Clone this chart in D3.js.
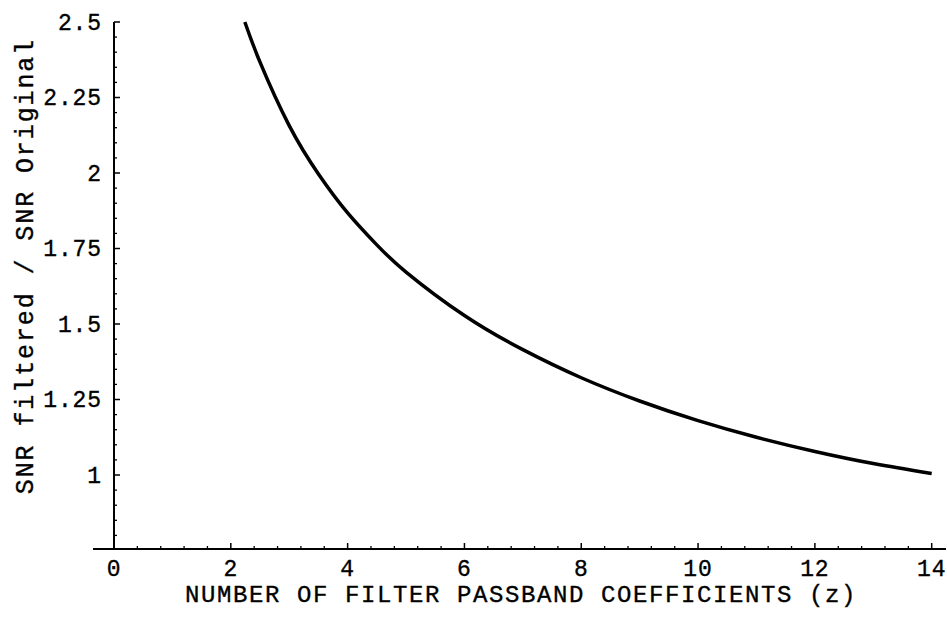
<!DOCTYPE html>
<html>
<head>
<meta charset="utf-8">
<script src="https://cdn.jsdelivr.net/npm/d3@7"></script>
<style>
  body { margin: 0; background: #fff; }
  text { font-family: "Courier New", "Liberation Mono", monospace; fill: #000; stroke: #000; stroke-width: 0.35; }
</style>
</head>
<body>
<div id="chart"></div>
<script>
// curve: z (coefficients) vs SNR ratio
var zValues = [2.24, 2.5, 3, 3.5, 4, 4.5, 5, 6, 7, 8, 9, 10, 11, 12, 13, 14];
var snrRatio = [2.5, 2.367, 2.157, 1.997, 1.868, 1.762, 1.672, 1.528, 1.415, 1.322, 1.245, 1.18, 1.125, 1.078, 1.038, 1.005];
var xTicks = [0, 2, 4, 6, 8, 10, 12, 14];
var yTicks = [1, 1.25, 1.5, 1.75, 2, 2.25, 2.5];
var yTickLabels = ['1', '1.25', '1.5', '1.75', '2', '2.25', '2.5'];

var width = 947, height = 628;
var svg = d3.select('#chart')
    .append('svg')
    .attr('width', width)
    .attr('height', height)

var x = d3.scaleLinear().domain([0, 14]).range([114, 931.7]);
var y = d3.scaleLinear().domain([0.755, 2.5]).range([549, 22]);

// axis lines
svg.append('line')
    .attr('x1', 93).attr('x2', 946)
    .attr('y1', y(0.755)).attr('y2', y(0.755))
    .attr('stroke', '#000').attr('stroke-width', 2)
svg.append('line')
    .attr('x1', x(0)).attr('x2', x(0))
    .attr('y1', y(2.5)).attr('y2', y(0.755))
    .attr('stroke', '#000').attr('stroke-width', 2)

// x ticks (inward), minor every 0.4
var xMinor = d3.range(0, 14.01, 0.4).filter(function (d) {
    return Math.abs(d / 2 - Math.round(d / 2)) > 0.01;
});
svg.selectAll('.xminor')
    .data(xMinor)
    .enter().append('line')
    .attr('x1', function (d) { return x(d); })
    .attr('x2', function (d) { return x(d); })
    .attr('y1', y(0.755)).attr('y2', y(0.755) - 3)
    .attr('stroke', '#000').attr('stroke-width', 1.3)
svg.selectAll('.xmajor')
    .data(xTicks)
    .enter().append('line')
    .attr('x1', function (d) { return x(d); })
    .attr('x2', function (d) { return x(d); })
    .attr('y1', y(0.755)).attr('y2', y(0.755) - 6)
    .attr('stroke', '#000').attr('stroke-width', 1.5)
svg.selectAll('.xlab')
    .data(xTicks)
    .enter().append('text')
    .attr('x', function (d) { return x(d); })
    .attr('y', 576)
    .attr('text-anchor', 'middle')
    .attr('font-size', 23)
    .attr('letter-spacing', 0.9)
    .text(function (d) { return d; })

// y ticks, minor every 0.05
var yMinor = d3.range(0.8, 2.501, 0.05).filter(function (d) {
    return Math.abs(d * 4 - Math.round(d * 4)) > 0.01;
});
svg.selectAll('.yminor')
    .data(yMinor)
    .enter().append('line')
    .attr('x1', x(0)).attr('x2', x(0) + 3)
    .attr('y1', function (d) { return y(d); })
    .attr('y2', function (d) { return y(d); })
    .attr('stroke', '#000').attr('stroke-width', 1.3)
svg.selectAll('.ymajor')
    .data(yTicks)
    .enter().append('line')
    .attr('x1', x(0)).attr('x2', x(0) + 6)
    .attr('y1', function (d) { return y(d); })
    .attr('y2', function (d) { return y(d); })
    .attr('stroke', '#000').attr('stroke-width', 1.5)
svg.selectAll('.ylab')
    .data(yTicks)
    .enter().append('text')
    .attr('x', 102)
    .attr('y', function (d) { return y(d) + 7.5; })
    .attr('text-anchor', 'end')
    .attr('font-size', 23)
    .attr('letter-spacing', 0.9)
    .text(function (d, i) { return yTickLabels[i]; })

// the curve
var line = d3.line()
    .x(function (d, i) { return x(zValues[i]); })
    .y(function (d) { return y(d); })
    .curve(d3.curveNatural)
svg.append('path')
    .attr('d', line(snrRatio))
    .attr('fill', 'none')
    .attr('stroke', '#000')
    .attr('stroke-width', 3.5)

// axis titles
svg.append('text')
    .attr('x', 521)
    .attr('y', 602)
    .attr('text-anchor', 'middle')
    .attr('font-size', 24)
    .attr('letter-spacing', 1.6)
    .text('NUMBER OF FILTER PASSBAND COEFFICIENTS (z)')
svg.append('text')
    .attr('transform', 'translate(33,266) rotate(-90)')
    .attr('text-anchor', 'middle')
    .attr('font-size', 25)
    .attr('letter-spacing', 1.9)
    .text('SNR filtered / SNR Original')
</script>
</body>
</html>
